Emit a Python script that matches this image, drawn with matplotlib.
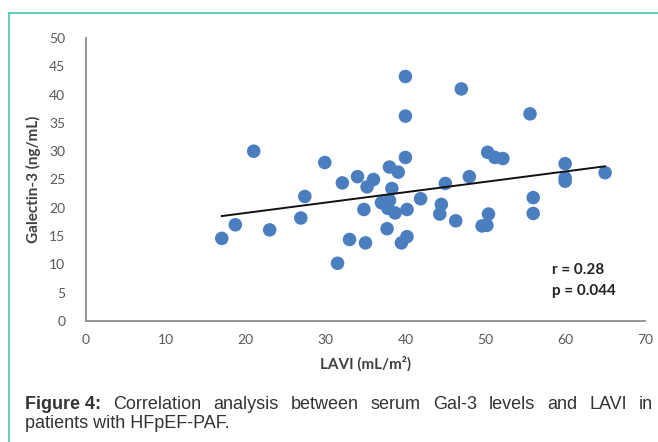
import matplotlib
matplotlib.use("Agg")
import matplotlib.pyplot as plt
from matplotlib.lines import Line2D
import numpy as np

# LAVI (mL/m2) vs Galectin-3 (ng/mL)
lavi = [17.0, 18.7, 21.0, 23.0, 26.9, 27.4, 29.9, 31.5, 32.1, 33.0,
        34.0, 34.8, 35.0, 35.2, 36.0, 37.0, 37.7, 38.0, 38.3, 38.0,
        37.8, 38.7, 39.1, 39.5, 40.2, 40.2, 40.0, 40.0, 40.0, 41.9,
        44.5, 44.3, 45.0, 46.3, 47.0, 48.0, 49.6, 50.2, 50.4, 50.3,
        51.2, 52.2, 55.6, 56.0, 56.0, 60.0, 60.0, 60.0, 65.0]
gal3 = [14.6, 17.0, 30.0, 16.1, 18.2, 22.0, 28.0, 10.2, 24.4, 14.4,
        25.5, 19.7, 13.8, 23.7, 25.0, 20.9, 16.3, 27.2, 23.4, 21.3,
        19.9, 19.1, 26.3, 13.8, 14.9, 19.7, 28.9, 36.2, 43.2, 21.6,
        20.6, 18.9, 24.3, 17.7, 41.0, 25.5, 16.8, 16.9, 18.9, 29.8,
        28.9, 28.7, 36.6, 21.8, 19.0, 27.8, 25.3, 24.7, 26.2]

x_ticks = [0, 10, 20, 30, 40, 50, 60, 70]
y_ticks = [0, 5, 10, 15, 20, 25, 30, 35, 40, 45, 50]
stats_text = ["r = 0.28", "p = 0.044"]
caption_bold = "Figure 4:"
caption_line1 = "Correlation analysis between serum Gal-3 levels and LAVI in"
caption_line2 = "patients with HFpEF-PAF."

fig = plt.figure(figsize=(6.58, 4.42), dpi=100)
W, H = 658, 442

# teal frame of the figure box
teal = "#55c7b8"
fig.add_artist(Line2D([9 / W, 1], [1 - 13 / H, 1 - 13 / H], color=teal, lw=1.3))
fig.add_artist(Line2D([9 / W, 9 / W], [0, 1 - 13 / H], color=teal, lw=1.3))

ax = fig.add_axes([86 / W, 1 - 321 / H, (645 - 86) / W, (321 - 38) / H])
ax.scatter(lavi, gal3, s=95, color="#4a7ebf", edgecolors="none", zorder=3)

# linear trend line
coef = np.polyfit(lavi, gal3, 1)
xs = np.array([min(lavi), max(lavi)])
ax.plot(xs, np.polyval(coef, xs), color="#111111", lw=1.4, zorder=4)

ax.set_xlim(0, 70)
ax.set_ylim(0, 50)
ax.set_xticks(x_ticks)
ax.set_yticks(y_ticks)
for s in ["top", "right"]:
    ax.spines[s].set_visible(False)
for s in ["left", "bottom"]:
    ax.spines[s].set_color("#8c8c8c")
    ax.spines[s].set_linewidth(1.3)
ax.tick_params(length=0, labelcolor="#595959", labelsize=10)
ax.tick_params(axis="y", pad=15)
ax.tick_params(axis="x", pad=9)
for lab in ax.get_xticklabels() + ax.get_yticklabels():
    lab.set_fontfamily("Lato")

ax.set_ylabel("Galectin-3 (ng/mL)", fontfamily="Lato", fontweight="bold",
              fontsize=11, color="#404040", labelpad=6)
ax.set_xlabel("LAVI (mL/m\u00b2)", fontfamily="Lato", fontweight="bold",
              fontsize=11, color="#404040", labelpad=8)

ax.text(0.834, 0.18, stats_text[0], transform=ax.transAxes, ha="left", va="center",
        fontfamily="Lato", fontweight="bold", fontsize=11, color="#222222")
ax.text(0.834, 0.106, stats_text[1], transform=ax.transAxes, ha="left", va="center",
        fontfamily="Lato", fontweight="bold", fontsize=11, color="#222222")

# caption, first line justified between x=25 and x=653
cap_kw = dict(fontfamily="Liberation Sans", fontsize=13, color="#333333", va="baseline")
renderer = fig.canvas.get_renderer()
words = [(caption_bold, "bold")] + [(w, "normal") for w in caption_line1.split()]
arts = [fig.text(0, 0, w, fontweight=fw, **cap_kw) for w, fw in words]
widths = [a.get_window_extent(renderer).width for a in arts]
gap = (653 - 25 - sum(widths)) / (len(words) - 1)
xpos = 25
for a, wdt in zip(arts, widths):
    a.set_position((xpos / W, 1 - 409 / H))
    xpos += wdt + gap
fig.text(25 / W, 1 - 428 / H, caption_line2, **cap_kw)

fig.savefig("out.png", dpi=100)
